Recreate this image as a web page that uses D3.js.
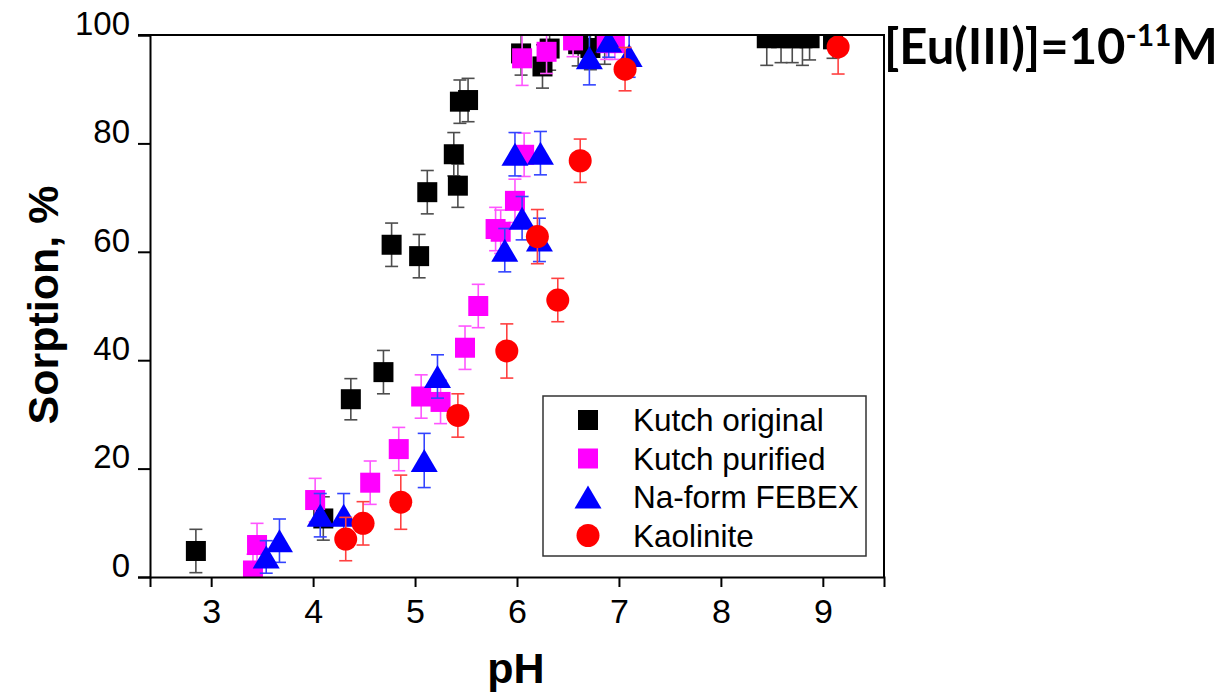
<!DOCTYPE html>
<html>
<head>
<meta charset="utf-8">
<script src="https://cdn.jsdelivr.net/npm/d3@7"></script>
<style>
  body { margin: 0; background: #fff; }
  svg { display: block; }
  text { font-family: "Liberation Sans", Arial, sans-serif; }
</style>
</head>
<body>
<div id="vis"></div>
<script>
// [pH, sorption %, error]
var kutchOriginal = [
  [2.85, 4.8, 4], [4.10, 10.8, 4], [4.37, 32.8, 3.8], [4.69, 37.8, 4], [4.77, 61.3, 4],
  [5.04, 59.2, 4], [5.12, 71.0, 4], [5.38, 78.0, 4], [5.42, 72.2, 4], [5.44, 87.7, 4],
  [5.52, 88.0, 4], [6.04, 96.6, 4], [6.25, 94.2, 4], [6.32, 97.5, 4], [6.60, 98.3, 4],
  [6.72, 97.6, 4], [6.86, 98.6, 4], [8.45, 99.4, 5], [8.59, 99.4, 4.5], [8.70, 99.4, 4.5],
  [8.80, 99.4, 5], [8.87, 99.4, 4], [9.10, 99.2, 3.5]
];
var kutchPurified = [
  [3.41, 1.2, 3], [3.45, 5.9, 4], [4.02, 14.2, 4], [4.56, 17.4, 4], [4.84, 23.6, 4],
  [5.06, 33.3, 4], [5.25, 32.3, 4], [5.49, 42.3, 4], [5.62, 50.0, 4], [5.79, 64.2, 4],
  [5.84, 63.7, 4], [5.98, 69.4, 4], [6.07, 77.9, 4], [6.05, 95.7, 5], [6.29, 96.9, 4],
  [6.55, 99.0, 3], [6.88, 98.5, 3], [6.96, 98.5, 3]
];
var naFebex = [
  [3.54, 3.7, 3], [3.67, 6.7, 4], [4.07, 11.4, 4], [4.30, 11.4, 4], [5.09, 21.5, 5],
  [5.22, 37.0, 4], [5.88, 60.3, 4], [6.05, 66.2, 4], [6.22, 62.2, 4], [5.98, 78.0, 4],
  [6.23, 78.2, 4], [6.71, 95.8, 5], [6.90, 98.9, 3], [7.10, 96.2, 4]
];
var kaolinite = [
  [4.32, 7.0, 4], [4.49, 9.9, 4], [4.86, 13.8, 5], [5.42, 29.8, 4], [5.90, 41.7, 5],
  [6.40, 51.1, 4], [6.20, 62.8, 5], [6.62, 76.8, 4], [7.06, 93.7, 4], [9.15, 97.8, 5]
];

var seriesNames = ['Kutch original', 'Kutch purified', 'Na-form FEBEX', 'Kaolinite'];
var seriesColors = ['#000000', '#ff00ff', '#0000ff', '#ff0000'];
var barColors = ['#4d4d4d', '#ff55ff', '#3344ff', '#ff4040'];
var seriesShapes = ['square', 'square', 'triangle', 'circle'];
var xTicks = [3, 4, 5, 6, 7, 8, 9];
var yTicks = [0, 20, 40, 60, 80, 100];

var series = [kutchOriginal, kutchPurified, naFebex, kaolinite].map((d, i) => ({
  name: seriesNames[i], color: seriesColors[i], bar: barColors[i], shape: seriesShapes[i],
  values: d.map(v => ({ ph: v[0], s: v[1], err: v[2] }))
}));

var W = 1225, H = 693;
var pL = 150, pR = 884, pT = 35, pB = 577;

var x = d3.scaleLinear().domain([2.4, 9.6]).range([pL, pR]);
var y = d3.scaleLinear().domain([0, 100]).range([pB, pT]);

var svg = d3.select('#vis').append('svg')
  .attr('width', W).attr('height', H);

svg.append('defs').append('clipPath').attr('id', 'plotclip')
  .append('rect').attr('x', pL).attr('y', pT)
  .attr('width', pR - pL).attr('height', pB - pT);

function marker(sel, shape, color) {
  if (shape === 'square') {
    sel.append('rect').attr('x', -10).attr('y', -10).attr('width', 20).attr('height', 20)
      .attr('fill', color);
  } else if (shape === 'triangle') {
    sel.append('path').attr('d', 'M0,-11.5L13.5,11.5L-13.5,11.5Z').attr('fill', color);
  } else {
    sel.append('circle').attr('r', 11.5).attr('fill', color);
  }
}

// data
var plot = svg.append('g').attr('clip-path', 'url(#plotclip)');
series.forEach(function(s) {
  var g = plot.append('g');
  var bars = g.selectAll('g.bar').data(s.values).enter().append('g')
    .attr('stroke', s.bar).attr('stroke-width', 1.6);
  bars.append('line')
    .attr('x1', d => x(d.ph)).attr('x2', d => x(d.ph))
    .attr('y1', d => y(d.s + d.err)).attr('y2', d => y(d.s - d.err));
  bars.append('line')
    .attr('x1', d => x(d.ph) - 6.5).attr('x2', d => x(d.ph) + 6.5)
    .attr('y1', d => y(d.s + d.err)).attr('y2', d => y(d.s + d.err));
  bars.append('line')
    .attr('x1', d => x(d.ph) - 6.5).attr('x2', d => x(d.ph) + 6.5)
    .attr('y1', d => y(d.s - d.err)).attr('y2', d => y(d.s - d.err));
  g.selectAll('g.pt').data(s.values).enter().append('g')
    .attr('transform', d => 'translate(' + x(d.ph) + ',' + y(d.s) + ')')
    .each(function() { marker(d3.select(this), s.shape, s.color); });
});

// frame
svg.append('line').attr('x1', pL - 12).attr('x2', pR + 1).attr('y1', pT).attr('y2', pT)
  .attr('stroke', '#000').attr('stroke-width', 2);
svg.append('line').attr('x1', pR).attr('x2', pR).attr('y1', pT).attr('y2', pB)
  .attr('stroke', '#000').attr('stroke-width', 2);

// x axis
var xMinor = d3.range(2.4, 9.61, 0.2).filter(v => Math.abs(v - Math.round(v)) > 0.01);
var gx = svg.append('g').attr('transform', 'translate(0,' + pB + ')');
gx.call(d3.axisBottom(x).tickValues(xMinor).tickSize(6).tickFormat(''));
gx.call(d3.axisBottom(x).tickValues(xTicks).tickSize(10).tickPadding(12).tickFormat(d3.format('d')));
gx.selectAll('.domain').attr('stroke-width', 2);
gx.selectAll('.tick line').attr('stroke-width', 2);
gx.selectAll('.tick text').attr('font-size', 34).attr('fill', '#000');

// y axis
var yMinor = [10, 30, 50, 70, 90];
var gy = svg.append('g').attr('transform', 'translate(' + pL + ',0)');
gy.call(d3.axisLeft(y).tickValues(yMinor).tickSize(6).tickFormat(''));
gy.call(d3.axisLeft(y).tickValues(yTicks).tickSize(12).tickPadding(8).tickFormat(d3.format('d')));
gy.selectAll('.domain').attr('stroke-width', 2);
gy.selectAll('.tick line').attr('stroke-width', 2);
gy.selectAll('.tick text').attr('font-size', 33).attr('fill', '#000').attr('dy', '-0.02em');

// axis titles
svg.append('text').attr('x', (pL + pR) / 2 - 1).attr('y', 683)
  .attr('text-anchor', 'middle').attr('font-size', 43).attr('font-weight', 'bold')
  .text('pH');
svg.append('text').attr('transform', 'translate(58,305) rotate(-90)')
  .attr('text-anchor', 'middle').attr('font-size', 43).attr('font-weight', 'bold')
  .text('Sorption, %');

// title
var title = svg.append('text').attr('x', 884).attr('y', 64)
  .style('font-family', 'Lato, "Open Sans", sans-serif').attr('font-weight', 'bold')
  .attr('font-size', 49);
title.append('tspan').text('[Eu(III)]=10');
title.append('tspan').attr('dy', -18).attr('font-size', 30).text('-11');
title.append('tspan').attr('dy', 18).text('M');

// legend
var lg = svg.append('g');
lg.append('rect').attr('x', 543).attr('y', 396).attr('width', 323).attr('height', 160)
  .attr('fill', '#fff').attr('stroke', '#333').attr('stroke-width', 1.5);
series.forEach(function(s, i) {
  var cy = 420 + i * 38.5;
  marker(lg.append('g').attr('transform', 'translate(588,' + cy + ')'), s.shape, s.color);
  lg.append('text').attr('x', 633).attr('y', cy).attr('dy', '0.36em')
    .attr('font-size', 31.5).text(s.name);
});
</script>
</body>
</html>
